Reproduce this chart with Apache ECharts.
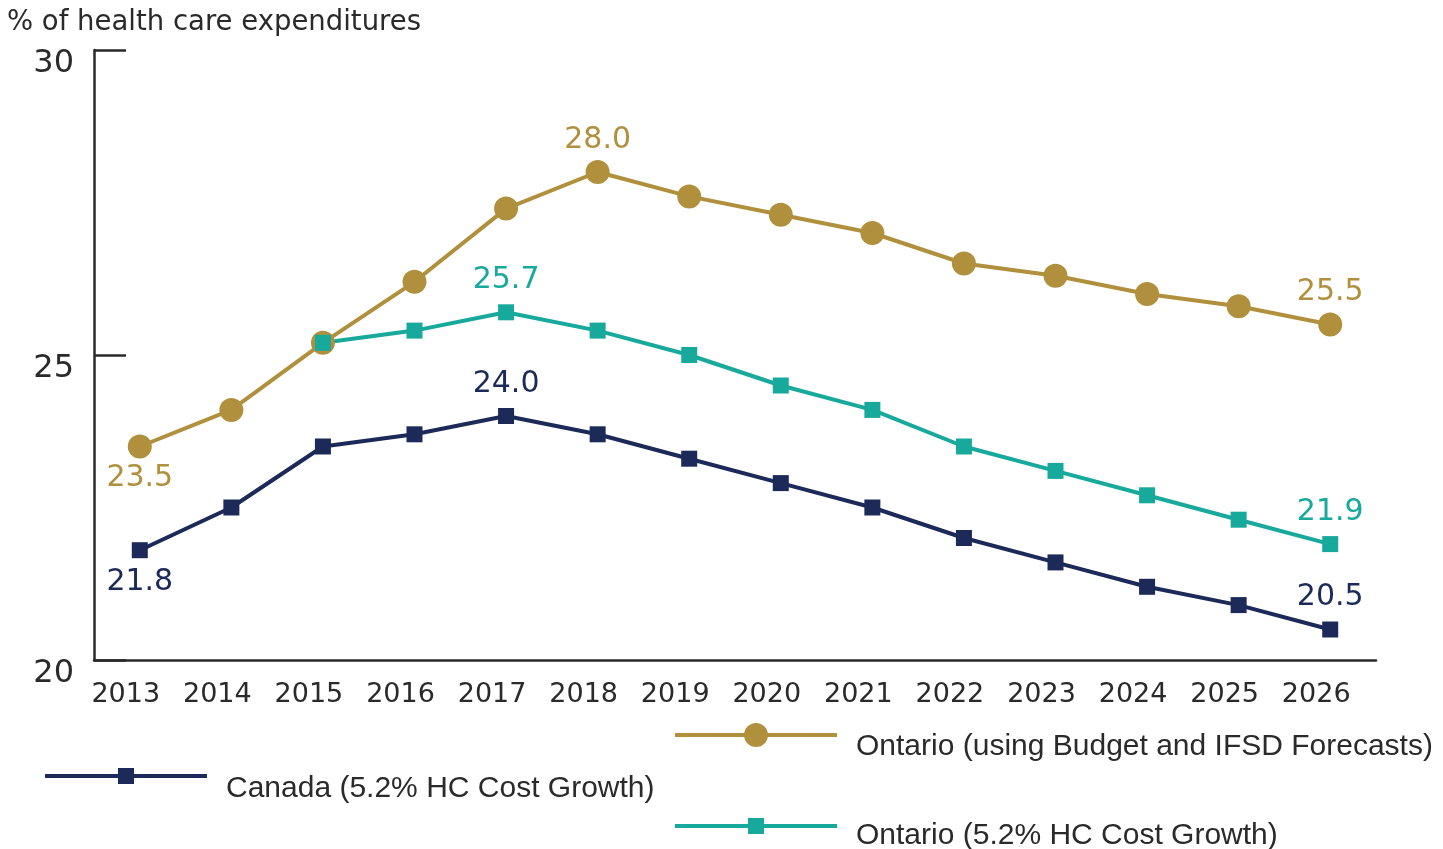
<!DOCTYPE html>
<html>
<head>
<meta charset="utf-8">
<script src="https://cdn.jsdelivr.net/npm/echarts@6/dist/echarts.min.js"></script>
<style>
  html, body { margin: 0; padding: 0; background: #fff; }
  #chart { width: 1443px; height: 849px; }
</style>
</head>
<body>
<div id="chart"></div>
<script>
// categories
var years = ['2013','2014','2015','2016','2017','2018','2019','2020','2021','2022','2023','2024','2025','2026'];

// series values
var ontarioBudget = [23.5, 24.1, 25.2, 26.2, 27.4, 28.0, 27.6, 27.3, 27.0, 26.5, 26.3, 26.0, 25.8, 25.5];
var ontarioGrowth = ['-', '-', 25.2, 25.4, 25.7, 25.4, 25.0, 24.5, 24.1, 23.5, 23.1, 22.7, 22.3, 21.9];
var canadaGrowth  = [21.8, 22.5, 23.5, 23.7, 24.0, 23.7, 23.3, 22.9, 22.5, 22.0, 21.6, 21.2, 20.9, 20.5];

var seriesNames = ['Ontario (using Budget and IFSD Forecasts)', 'Ontario (5.2% HC Cost Growth)', 'Canada (5.2% HC Cost Growth)'];

// which points carry a value label, and where
var budgetLabels = { 0: 'bottom', 5: 'top', 13: 'top' };
var growthLabels = { 4: 'top', 13: 'top' };
var canadaLabels = { 0: 'bottom', 4: 'top', 13: 'top' };

var GOLD = '#b0903d', TEAL = '#17a99b', NAVY = '#1b2a58', AXIS = '#2a2a2a', TEXT = '#2a2a2a';
var wideFont = 'DejaVu Sans';
var legendFont = '"Liberation Sans"';

function withLabels(values, labels, color, dist){
    return values.map(function(v, i){
        if (labels[i] === undefined) return v;
        return {
            value: v,
            label: {
                show: true,
                position: labels[i],
                distance: dist,
                color: color,
                fontSize: 30,
                fontFamily: wideFont,
                formatter: function(p){ return Number(p.value).toFixed(1); }
            }
        };
    });
}

// legend: icon only, the name is drawn next to it as graphic text (lower than the icon, like the original)
function legendIcon(name, left, top, h){
    return {
        data: [name], left: left, top: top, padding: 0,
        itemWidth: 162, itemHeight: h,
        lineStyle: { width: 4 },
        formatter: function(){ return ''; }
    };
}
function legendText(name, x, y){
    return {
        type: 'text', left: x, top: y - 14,
        style: { text: name, fill: TEXT, font: '30px ' + legendFont }
    };
}

var chart = echarts.init(document.getElementById('chart'));
chart.setOption({
    animation: false,
    title: {
        text: '% of health care expenditures',
        left: 2, top: 4,
        textStyle: { fontFamily: wideFont, fontWeight: 'normal', fontSize: 27.5, color: TEXT }
    },
    legend: [
        legendIcon(seriesNames[0], 673, 720, 30),
        legendIcon(seriesNames[2], 43, 766, 20),
        legendIcon(seriesNames[1], 673, 816, 20)
    ],
    graphic: [
        legendText(seriesNames[0], 856, 746),
        legendText(seriesNames[2], 226, 788),
        legendText(seriesNames[1], 856, 835)
    ],
    grid: { left: 94, right: 67, top: 50, bottom: 189 },
    xAxis: {
        type: 'category',
        data: years,
        boundaryGap: true,
        axisLine: { lineStyle: { color: AXIS, width: 2.5 } },
        axisTick: { inside: true, length: 14, lineStyle: { color: AXIS, width: 2.5 } },
        axisLabel: { color: TEXT, fontFamily: wideFont, fontSize: 27, margin: 21, padding: [0, 28, 0, 0] }
    },
    yAxis: {
        type: 'value',
        min: 20, max: 30, interval: 5,
        splitLine: { show: false },
        axisLine: { show: true, lineStyle: { color: AXIS, width: 2.5 } },
        axisTick: { show: true, inside: true, length: 32, lineStyle: { color: AXIS, width: 2.5 } },
        axisLabel: { color: TEXT, fontFamily: wideFont, fontSize: 32, margin: 20, verticalAlign: 'top', lineHeight: 28 }
    },
    series: [
        {
            name: seriesNames[0],
            type: 'line',
            data: withLabels(ontarioBudget, budgetLabels, GOLD, 5),
            symbol: 'circle', symbolSize: 24,
            lineStyle: { color: GOLD, width: 4 },
            itemStyle: { color: GOLD }
        },
        {
            name: seriesNames[1],
            type: 'line',
            data: withLabels(ontarioGrowth, growthLabels, TEAL, 9),
            symbol: 'rect', symbolSize: 16,
            lineStyle: { color: TEAL, width: 4 },
            itemStyle: { color: TEAL }
        },
        {
            name: seriesNames[2],
            type: 'line',
            data: withLabels(canadaGrowth, canadaLabels, NAVY, 9),
            symbol: 'rect', symbolSize: 16,
            lineStyle: { color: NAVY, width: 4 },
            itemStyle: { color: NAVY }
        }
    ]
});
</script>
</body>
</html>
